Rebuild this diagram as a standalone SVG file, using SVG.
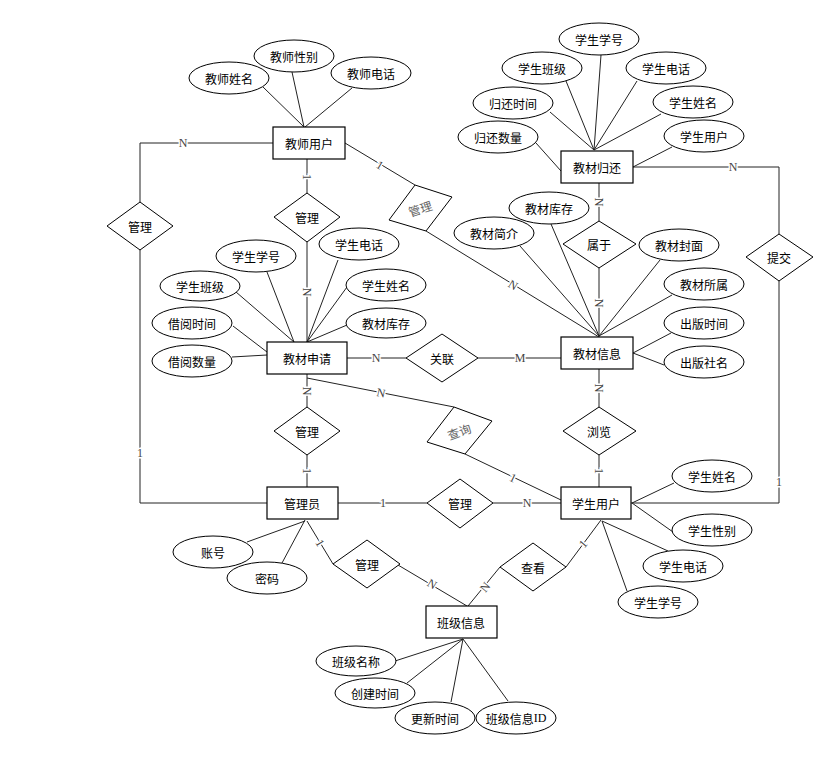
<svg xmlns="http://www.w3.org/2000/svg" width="840" height="768" viewBox="0 0 840 768">
<style>
.ent{fill:#fff;stroke:#000;stroke-width:1.2}
.att{fill:#fff;stroke:#000;stroke-width:1}
.rel{fill:#fff;stroke:#000;stroke-width:1}
.t{font-family:"Noto Sans CJK SC","Noto Sans",sans-serif;font-size:12px;text-anchor:middle;dominant-baseline:central;fill:#000}
.g{fill:#666}
.sf{font-family:"Liberation Serif",serif}
.c line,.c polyline{stroke:#222;stroke-width:1;fill:none}
.lb{font-family:"Liberation Serif",serif;font-size:12px;text-anchor:middle;dominant-baseline:central;fill:#444;stroke:#fff;stroke-width:3;paint-order:stroke}
</style>
<rect width="840" height="768" fill="#fff"/>
<g id="connectors" class="c">
<line x1="263" y1="87" x2="304" y2="127"/>
<line x1="292" y1="72" x2="304" y2="127"/>
<line x1="352" y1="88" x2="305" y2="127"/>
<polyline points="273,143 140,143 140,202"/>
<polyline points="140,250 140,503 267,503"/>
<line x1="307" y1="159" x2="307" y2="193"/>
<line x1="307" y1="242" x2="307" y2="342"/>
<line x1="345" y1="143" x2="415" y2="185"/>
<line x1="426" y1="231" x2="599" y2="337"/>
<line x1="601" y1="55" x2="594" y2="150"/>
<line x1="566" y1="81" x2="594" y2="150"/>
<line x1="637" y1="81" x2="594" y2="150"/>
<line x1="550" y1="112" x2="594" y2="150"/>
<line x1="661" y1="114" x2="594" y2="150"/>
<line x1="536" y1="143" x2="561" y2="171"/>
<line x1="672" y1="147" x2="633" y2="167"/>
<polyline points="633,167 779,167 779,234"/>
<polyline points="779,281 779,503 631,503"/>
<line x1="599" y1="183" x2="599" y2="221"/>
<line x1="599" y1="268" x2="599" y2="337"/>
<line x1="551" y1="224" x2="599" y2="336"/>
<line x1="520" y1="246" x2="599" y2="336"/>
<line x1="660" y1="260" x2="599" y2="336"/>
<line x1="672" y1="295" x2="599" y2="336"/>
<line x1="671" y1="333" x2="633" y2="353"/>
<line x1="633" y1="353" x2="664" y2="365"/>
<line x1="347" y1="358" x2="406" y2="358"/>
<line x1="478" y1="358" x2="561" y2="358"/>
<line x1="599" y1="369" x2="599" y2="407"/>
<line x1="599" y1="455" x2="599" y2="487"/>
<line x1="267" y1="272" x2="294" y2="342"/>
<line x1="338" y1="260" x2="307" y2="342"/>
<line x1="236" y1="292" x2="294" y2="342"/>
<line x1="347" y1="287" x2="307" y2="342"/>
<line x1="233" y1="326" x2="267" y2="352"/>
<line x1="347" y1="325" x2="307" y2="342"/>
<line x1="232" y1="357" x2="267" y2="355"/>
<line x1="307" y1="374" x2="307" y2="407"/>
<line x1="307" y1="455" x2="307" y2="487"/>
<line x1="307" y1="378" x2="454" y2="407"/>
<line x1="465" y1="454" x2="561" y2="500"/>
<line x1="338" y1="503" x2="427" y2="503"/>
<line x1="493" y1="503" x2="561" y2="503"/>
<line x1="247" y1="542" x2="305" y2="521"/>
<line x1="282" y1="563" x2="305" y2="520"/>
<line x1="307" y1="521" x2="333" y2="564"/>
<line x1="398" y1="565" x2="467" y2="606"/>
<line x1="632" y1="503" x2="674" y2="483"/>
<line x1="632" y1="503" x2="673" y2="532"/>
<line x1="602" y1="521" x2="668" y2="551"/>
<line x1="602" y1="521" x2="627" y2="591"/>
<line x1="468" y1="606" x2="500" y2="567"/>
<line x1="566" y1="567" x2="601" y2="520"/>
<line x1="395" y1="661" x2="463" y2="639"/>
<line x1="407" y1="683" x2="463" y2="639"/>
<line x1="451" y1="702" x2="463" y2="639"/>
<line x1="508" y1="701" x2="463" y2="639"/>
<text class="lb" x="183" y="143">N</text>
<text class="lb" x="140" y="453">1</text>
<text class="lb" transform="translate(307,177) rotate(90)">1</text>
<text class="lb" transform="translate(380,165) rotate(31)">1</text>
<text class="lb" transform="translate(307,292) rotate(90)">N</text>
<text class="lb" x="733" y="167">N</text>
<text class="lb" transform="translate(599,202) rotate(90)">N</text>
<text class="lb" transform="translate(599,303) rotate(90)">N</text>
<text class="lb" transform="translate(513,285) rotate(31)">N</text>
<text class="lb" x="520" y="358">M</text>
<text class="lb" x="376" y="358">N</text>
<text class="lb" transform="translate(599,388) rotate(90)">N</text>
<text class="lb" transform="translate(599,471) rotate(90)">1</text>
<text class="lb" transform="translate(307,391) rotate(90)">N</text>
<text class="lb" transform="translate(307,471) rotate(90)">1</text>
<text class="lb" transform="translate(381,393) rotate(11)">N</text>
<text class="lb" transform="translate(513,478) rotate(26)">1</text>
<text class="lb" x="383" y="503">1</text>
<text class="lb" x="527" y="503">N</text>
<text class="lb" transform="translate(320,543) rotate(59)">1</text>
<text class="lb" transform="translate(432,584) rotate(31)">N</text>
<text class="lb" transform="translate(485,587) rotate(-51)">N</text>
<text class="lb" transform="translate(583,544) rotate(-50)">1</text>
<text class="lb" x="779" y="482">1</text>
</g>
<g id="teacher"><rect class="ent" x="273" y="127" width="72" height="32"/><text class="t" x="309" y="143">教师用户</text></g>
<g id="t-name"><ellipse class="att" cx="229" cy="78" rx="40" ry="16"/><text class="t" x="229" y="78">教师姓名</text></g>
<g id="t-sex"><ellipse class="att" cx="294" cy="56" rx="40" ry="16"/><text class="t" x="294" y="56">教师性别</text></g>
<g id="t-tel"><ellipse class="att" cx="371" cy="73" rx="40" ry="16"/><text class="t" x="371" y="73">教师电话</text></g>
<g id="r-manage1"><polygon class="rel" points="107,226 140,202 173,226 140,250"/><text class="t" x="140" y="226">管理</text></g>
<g id="r-manage2"><polygon class="rel" points="274,217 307,193 340,217 307,242"/><text class="t" x="307" y="217">管理</text></g>
<g id="r-manage3"><polygon class="rel" points="415,185 452,197 426,231 389,220"/><text class="t g" transform="translate(420,208) rotate(-18)">管理</text></g>
<g id="return"><rect class="ent" x="561" y="151" width="72" height="32"/><text class="t" x="597" y="167">教材归还</text></g>
<g id="rt-no"><ellipse class="att" cx="599" cy="39" rx="40" ry="16"/><text class="t" x="599" y="39">学生学号</text></g>
<g id="rt-class"><ellipse class="att" cx="542" cy="68" rx="40" ry="16"/><text class="t" x="542" y="68">学生班级</text></g>
<g id="rt-tel"><ellipse class="att" cx="666" cy="68" rx="40" ry="16"/><text class="t" x="666" y="68">学生电话</text></g>
<g id="rt-time"><ellipse class="att" cx="513" cy="103" rx="40" ry="16"/><text class="t" x="513" y="103">归还时间</text></g>
<g id="rt-name"><ellipse class="att" cx="693" cy="102" rx="40" ry="16"/><text class="t" x="693" y="102">学生姓名</text></g>
<g id="rt-qty"><ellipse class="att" cx="498" cy="137" rx="40" ry="16"/><text class="t" x="498" y="137">归还数量</text></g>
<g id="rt-user"><ellipse class="att" cx="704" cy="136" rx="40" ry="16"/><text class="t" x="704" y="136">学生用户</text></g>
<g id="r-submit"><polygon class="rel" points="746,257 779,234 813,257 779,281"/><text class="t" x="779" y="257">提交</text></g>
<g id="r-belong"><polygon class="rel" points="563,244 599,221 636,244 599,268"/><text class="t" x="599" y="244">属于</text></g>
<g id="book"><rect class="ent" x="561" y="337" width="72" height="32"/><text class="t" x="597" y="353">教材信息</text></g>
<g id="b-stock"><ellipse class="att" cx="549" cy="208" rx="40" ry="16"/><text class="t" x="549" y="208">教材库存</text></g>
<g id="b-intro"><ellipse class="att" cx="494" cy="233" rx="40" ry="16"/><text class="t" x="494" y="233">教材简介</text></g>
<g id="b-cover"><ellipse class="att" cx="679" cy="245" rx="40" ry="16"/><text class="t" x="679" y="245">教材封面</text></g>
<g id="b-owner"><ellipse class="att" cx="704" cy="284" rx="40" ry="16"/><text class="t" x="704" y="284">教材所属</text></g>
<g id="b-pubtime"><ellipse class="att" cx="704" cy="323" rx="40" ry="16"/><text class="t" x="704" y="323">出版时间</text></g>
<g id="b-pub"><ellipse class="att" cx="704" cy="362" rx="40" ry="16"/><text class="t" x="704" y="362">出版社名</text></g>
<g id="r-link"><polygon class="rel" points="406,358 442,334 478,358 442,382"/><text class="t" x="442" y="358">关联</text></g>
<g id="r-browse"><polygon class="rel" points="563,431 599,407 636,431 599,455"/><text class="t" x="599" y="431">浏览</text></g>
<g id="apply"><rect class="ent" x="267" y="342" width="80" height="32"/><text class="t" x="307" y="358">教材申请</text></g>
<g id="a-no"><ellipse class="att" cx="256" cy="256" rx="40" ry="16"/><text class="t" x="256" y="256">学生学号</text></g>
<g id="a-tel"><ellipse class="att" cx="359" cy="244" rx="40" ry="16"/><text class="t" x="359" y="244">学生电话</text></g>
<g id="a-class"><ellipse class="att" cx="200" cy="286" rx="40" ry="15"/><text class="t" x="200" y="286">学生班级</text></g>
<g id="a-name"><ellipse class="att" cx="386" cy="285" rx="40" ry="16"/><text class="t" x="386" y="285">学生姓名</text></g>
<g id="a-time"><ellipse class="att" cx="192" cy="323" rx="40" ry="16"/><text class="t" x="192" y="323">借阅时间</text></g>
<g id="a-stock"><ellipse class="att" cx="386" cy="323" rx="40" ry="15"/><text class="t" x="386" y="323">教材库存</text></g>
<g id="a-qty"><ellipse class="att" cx="192" cy="361" rx="40" ry="16"/><text class="t" x="192" y="361">借阅数量</text></g>
<g id="r-manage4"><polygon class="rel" points="274,431 307,407 340,431 307,455"/><text class="t" x="307" y="431">管理</text></g>
<g id="r-query"><polygon class="rel" points="454,407 492,421 465,454 427,442"/><text class="t g" transform="translate(459,431) rotate(-20)">查询</text></g>
<g id="admin"><rect class="ent" x="267" y="487" width="71" height="32"/><text class="t" x="302" y="503">管理员</text></g>
<g id="ad-acc"><ellipse class="att" cx="213" cy="552" rx="40" ry="16"/><text class="t" x="213" y="552">账号</text></g>
<g id="ad-pwd"><ellipse class="att" cx="267" cy="578" rx="40" ry="16"/><text class="t" x="267" y="578">密码</text></g>
<g id="r-manage5"><polygon class="rel" points="427,503 460,479 493,503 460,528"/><text class="t" x="460" y="503">管理</text></g>
<g id="r-manage6"><polygon class="rel" points="333,564 367,540 400,564 367,588"/><text class="t" x="367" y="564">管理</text></g>
<g id="student"><rect class="ent" x="561" y="487" width="70" height="32"/><text class="t" x="596" y="503">学生用户</text></g>
<g id="s-name"><ellipse class="att" cx="712" cy="476" rx="40" ry="16"/><text class="t" x="712" y="476">学生姓名</text></g>
<g id="s-sex"><ellipse class="att" cx="712" cy="530" rx="40" ry="16"/><text class="t" x="712" y="530">学生性别</text></g>
<g id="s-tel"><ellipse class="att" cx="683" cy="566" rx="40" ry="16"/><text class="t" x="683" y="566">学生电话</text></g>
<g id="s-no"><ellipse class="att" cx="658" cy="602" rx="40" ry="16"/><text class="t" x="658" y="602">学生学号</text></g>
<g id="r-view"><polygon class="rel" points="500,567 533,543 566,567 533,591"/><text class="t" x="533" y="567">查看</text></g>
<g id="classinfo"><rect class="ent" x="426" y="606" width="71" height="32"/><text class="t" x="461" y="622">班级信息</text></g>
<g id="c-name"><ellipse class="att" cx="356" cy="661" rx="40" ry="15"/><text class="t" x="356" y="661">班级名称</text></g>
<g id="c-create"><ellipse class="att" cx="375" cy="693" rx="40" ry="15"/><text class="t" x="375" y="693">创建时间</text></g>
<g id="c-update"><ellipse class="att" cx="435" cy="718" rx="40" ry="16"/><text class="t" x="435" y="718">更新时间</text></g>
<g id="c-id"><ellipse class="att" cx="516" cy="718" rx="40" ry="16"/><text class="t" x="516" y="718">班级信息<tspan class="sf">ID</tspan></text></g>
</svg>
